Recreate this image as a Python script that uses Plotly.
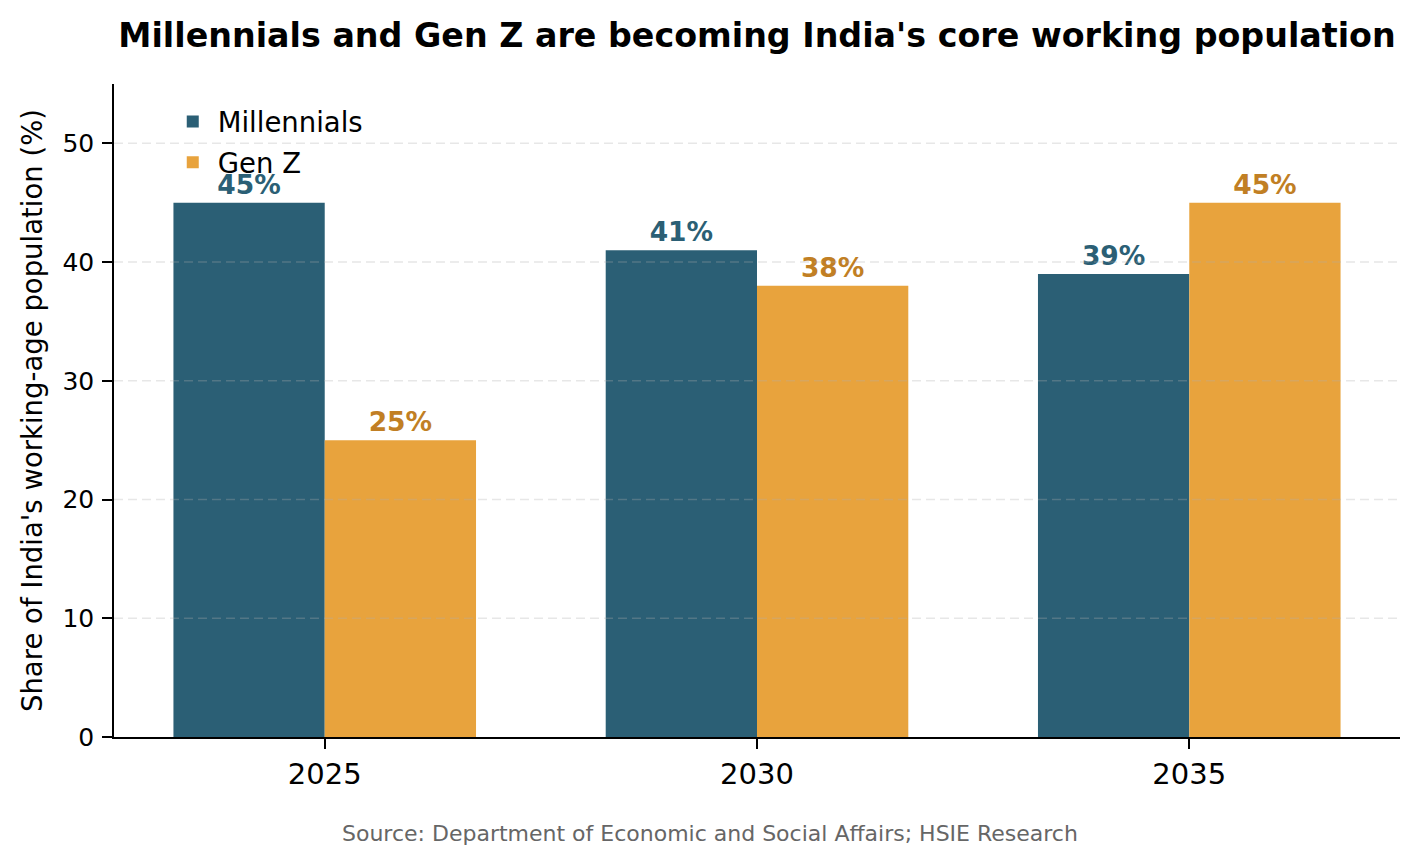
import plotly.graph_objects as go

years = ["2025", "2030", "2035"]
millennials = [45, 41, 39]
genz = [25, 38, 45]
series_names = ["Millennials", "Gen Z"]
y_ticks = [0, 10, 20, 30, 40, 50]

C_MIL = "#2b5f75"
C_GZ = "#e8a33d"
C_GZ_TXT = "#c17f24"
FONT = "DejaVu Sans"

fig = go.Figure()
fig.add_trace(go.Bar(
    x=years, y=millennials, name=series_names[0], marker_color=C_MIL,
    marker_line_width=0, legendgroup="m",
    text=[f"{v}%" for v in millennials], textposition="outside",
    textfont=dict(family=FONT, size=26.5, color=C_MIL, weight="bold"),
    cliponaxis=False,
))
fig.add_trace(go.Bar(
    x=years, y=genz, name=series_names[1], marker_color=C_GZ,
    marker_line_width=0, legendgroup="g",
    text=[f"{v}%" for v in genz], textposition="outside",
    textfont=dict(family=FONT, size=26.5, color=C_GZ_TXT, weight="bold"),
    cliponaxis=False,
))

# dashed grid drawn above bars (as in reference)
for v in y_ticks[1:]:
    fig.add_shape(type="line", xref="paper", x0=0, x1=1, yref="y", y0=v, y1=v,
                  line=dict(color="rgba(176,176,176,0.3)", width=1.5, dash="9px,5px"),
                  layer="above")

fig.update_layout(
    width=1420, height=865,
    margin=dict(l=114, r=20, t=84, b=128),
    paper_bgcolor="white", plot_bgcolor="white",
    barmode="group", bargap=0.3, bargroupgap=0,
    font=dict(family=FONT, color="black"),
    title=dict(
        text="<b>Millennials and Gen Z are becoming India's core working population</b>",
        font=dict(family=FONT, size=33.3, color="black"),
        x=0.5, xref="paper", xanchor="center",
        y=1 - 35 / 865, yref="container", yanchor="middle",
    ),
    showlegend=True,
    legend=dict(
        x=0.0418, y=0.98, xanchor="left", yanchor="top",
        font=dict(family=FONT, size=27.5, color="black"),
        bgcolor="rgba(0,0,0,0)", borderwidth=0,
        itemwidth=40, traceorder="grouped", tracegroupgap=2,
    ),
    xaxis=dict(
        type="category", range=[-0.4875, 2.4875],
        showline=True, linecolor="black", linewidth=1.6,
        ticks="outside", ticklen=10, tickwidth=1.5, tickcolor="black",
        tickfont=dict(family=FONT, size=29, color="black"),
        showgrid=False, zeroline=False,
    ),
    yaxis=dict(
        range=[0, 55], tickvals=y_ticks,
        showline=True, linecolor="black", linewidth=1.6,
        ticks="outside", ticklen=10, tickwidth=1.5, tickcolor="black",
        tickfont=dict(family=FONT, size=25, color="black"),
        ticklabelstandoff=3,
        showgrid=False, zeroline=False,
        title=dict(text="Share of India's working-age population (%)",
                   font=dict(family=FONT, size=27.5, color="black"), standoff=12),
    ),
)

fig.add_annotation(
    text="Source: Department of Economic and Social Affairs; HSIE Research",
    xref="paper", yref="paper", x=(710 - 114) / 1286, y=(737 - 833) / 653,
    xanchor="center", yanchor="middle", showarrow=False,
    font=dict(family=FONT, size=22, color="#666666"),
)

fig.write_html("out.html")
